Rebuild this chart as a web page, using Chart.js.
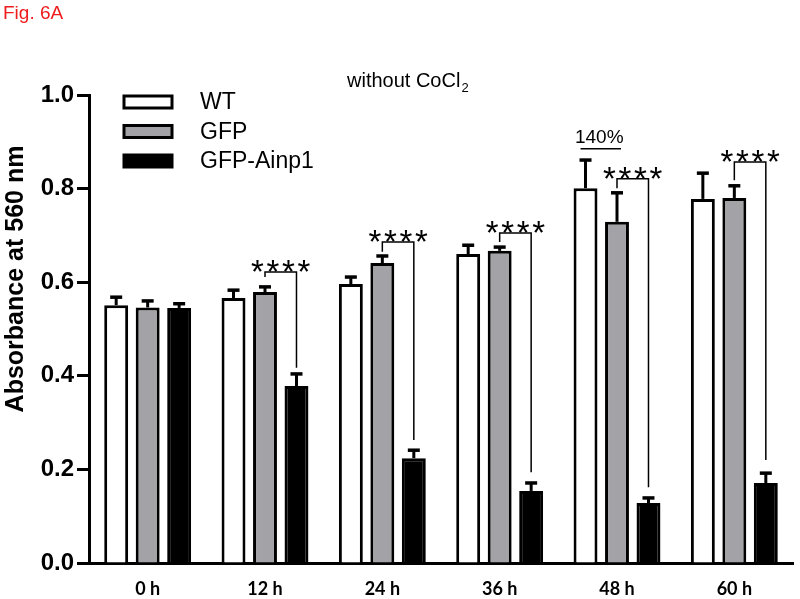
<!DOCTYPE html>
<html>
<head>
<meta charset="utf-8">
<script src="https://cdn.jsdelivr.net/npm/chart.js@4"></script>
<style>
    html, body { margin: 0; padding: 0; background: #ffffff; }
    #wrap { width: 800px; height: 599px; position: relative; }
</style>
</head>
<body>
<div id="wrap"><canvas id="chart"></canvas></div>
<script>
// --- data ---
const categories = ['0 h', '12 h', '24 h', '36 h', '48 h', '60 h'];
const seriesNames = ['WT', 'GFP', 'GFP-Ainp1'];
const wtValues = [0.551, 0.566, 0.596, 0.660, 0.801, 0.778];
const wtErrors = [0.017, 0.017, 0.015, 0.019, 0.060, 0.055];
const gfpValues = [0.546, 0.579, 0.641, 0.667, 0.729, 0.780];
const gfpErrors = [0.014, 0.011, 0.015, 0.008, 0.062, 0.026];
const ainpValues = [0.545, 0.378, 0.224, 0.154, 0.128, 0.171];
const ainpErrors = [0.009, 0.026, 0.017, 0.017, 0.011, 0.021];

// significance brackets (GFP vs GFP-Ainp1), in axis units
const sigTop = [null, 0.622, 0.686, 0.705, 0.821, 0.857];
const sigLeftEnd = [null, 0.611, 0.665, 0.686, 0.801, 0.818];
const sigRightEnd = [null, 0.417, 0.263, 0.194, 0.162, 0.220];
const sigLabel = '****';

const yTicks = [0, 0.2, 0.4, 0.6, 0.8, 1.0];

const GRAY = '#a3a3a7';
const fills = ['#ffffff', GRAY, '#000000'];
const errors = [wtErrors, gfpErrors, ainpErrors];

const FONT = '"Liberation Sans", Arial, sans-serif';

// --- custom drawing: error bars, brackets, legend, labels ---
const overlayPlugin = {
    id: 'overlay',
    afterDatasetsDraw(chart) {
        const ctx = chart.ctx;
        const y = chart.scales.y;
        ctx.save();
        ctx.strokeStyle = '#000';

        // error bars (upper only)
        chart.data.datasets.forEach((ds, d) => {
            const meta = chart.getDatasetMeta(d);
            meta.data.forEach((bar, i) => {
                const top = y.getPixelForValue(ds.data[i] + errors[d][i]);
                ctx.lineWidth = 3;
                ctx.beginPath();
                ctx.moveTo(bar.x, bar.y);
                ctx.lineTo(bar.x, top);
                ctx.stroke();
                ctx.lineWidth = 3.5;
                ctx.beginPath();
                ctx.moveTo(bar.x - 6, top);
                ctx.lineTo(bar.x + 6, top);
                ctx.stroke();
            });
        });

        // significance brackets
        const gfpMeta = chart.getDatasetMeta(1);
        const ainpMeta = chart.getDatasetMeta(2);
        ctx.lineWidth = 1.5;
        categories.forEach((c, i) => {
            if (sigTop[i] === null) return;
            const x1 = gfpMeta.data[i].x;
            const x2 = ainpMeta.data[i].x;
            const yt = y.getPixelForValue(sigTop[i]);
            ctx.beginPath();
            ctx.moveTo(x1, y.getPixelForValue(sigLeftEnd[i]));
            ctx.lineTo(x1, yt);
            ctx.lineTo(x2, yt);
            ctx.lineTo(x2, y.getPixelForValue(sigRightEnd[i]));
            ctx.stroke();
            // asterisks, spaced out
            ctx.fillStyle = '#000';
            ctx.font = '33px ' + FONT;
            ctx.textAlign = 'center';
            ctx.textBaseline = 'alphabetic';
            const mid = (x1 + x2) / 2;
            const n = sigLabel.length;
            for (let k = 0; k < n; k++) {
                ctx.fillText('*', mid + (k - (n - 1) / 2) * 15.5, yt + 11);
            }
        });

        // "140%" note above 48 h WT/GFP
        const wt48 = chart.getDatasetMeta(0).data[4];
        const gfp48 = gfpMeta.data[4];
        const noteY = y.getPixelForValue(0.885);
        ctx.lineWidth = 1.5;
        ctx.beginPath();
        ctx.moveTo(wt48.x - 5, noteY);
        ctx.lineTo(gfp48.x + 4, noteY);
        ctx.stroke();
        ctx.font = '19px ' + FONT;
        ctx.textAlign = 'center';
        ctx.fillText('140%', (wt48.x + gfp48.x) / 2 - 2, noteY - 6);

        // legend inside plot
        ctx.textAlign = 'left';
        ctx.textBaseline = 'middle';
        ctx.font = '23px ' + FONT;
        seriesNames.forEach((name, k) => {
            const cy = 102 + k * 29.5;
            ctx.fillStyle = fills[k];
            ctx.fillRect(124, cy - 6, 48, 12);
            ctx.lineWidth = 3;
            ctx.strokeRect(124, cy - 6, 48, 12);
            ctx.fillStyle = '#000';
            ctx.fillText(name, 200, cy + 1);
        });

        // title with subscript
        ctx.textBaseline = 'alphabetic';
        ctx.font = '20px ' + FONT;
        const t = 'without CoCl';
        ctx.fillText(t, 347, 87);
        const tw = ctx.measureText(t).width;
        ctx.font = '13px ' + FONT;
        ctx.fillText('2', 347 + tw + 1, 92);

        // figure tag
        ctx.fillStyle = '#ee1c1c';
        ctx.font = '19px ' + FONT;
        ctx.fillText('Fig. 6A', 3, 19);

        // y axis title
        ctx.fillStyle = '#000';
        ctx.font = 'bold 25px ' + FONT;
        ctx.textAlign = 'center';
        ctx.textBaseline = 'middle';
        ctx.translate(16, 279);
        ctx.rotate(-Math.PI / 2);
        ctx.fillText('Absorbance at 560 nm', 0, 0);
        ctx.restore();
    }
};

const datasets = [wtValues, gfpValues, ainpValues].map((vals, d) => ({
    label: seriesNames[d],
    data: vals,
    backgroundColor: fills[d],
    borderColor: '#000000',
    borderWidth: 3,
    borderSkipped: 'start',
    barPercentage: 0.76,
    categoryPercentage: 0.805
}));

new Chart(document.getElementById('chart'), {
    type: 'bar',
    data: { labels: categories, datasets: datasets },
    options: {
        responsive: true,
        maintainAspectRatio: false,
        animation: false,
        events: [],
        layout: { padding: { top: 95, right: 7, bottom: 0, left: 0 } },
        plugins: {
            legend: { display: false },
            title: { display: false },
            tooltip: { enabled: false }
        },
        scales: {
            x: {
                grid: { display: false },
                border: { display: true, color: '#000', width: 3 },
                ticks: {
                    color: '#000',
                    padding: 7,
                    font: { family: 'Lato, sans-serif', weight: 'bold', size: 18 }
                },
                afterFit: (scale) => { scale.height = 36; }
            },
            y: {
                min: 0,
                max: 1.0,
                afterBuildTicks: (scale) => {
                    scale.ticks = yTicks.map(v => ({ value: v }));
                },
                grid: {
                    display: true,
                    drawOnChartArea: false,
                    drawTicks: true,
                    tickLength: 12,
                    tickWidth: 3,
                    color: '#000'
                },
                border: { display: true, color: '#000', width: 3 },
                ticks: {
                    color: '#000',
                    padding: 3,
                    font: { family: FONT, weight: 'bold', size: 24 },
                    callback: (v) => Number(v).toFixed(1)
                },
                afterFit: (scale) => { scale.width = 89; }
            }
        }
    },
    plugins: [overlayPlugin]
});
</script>
</body>
</html>
